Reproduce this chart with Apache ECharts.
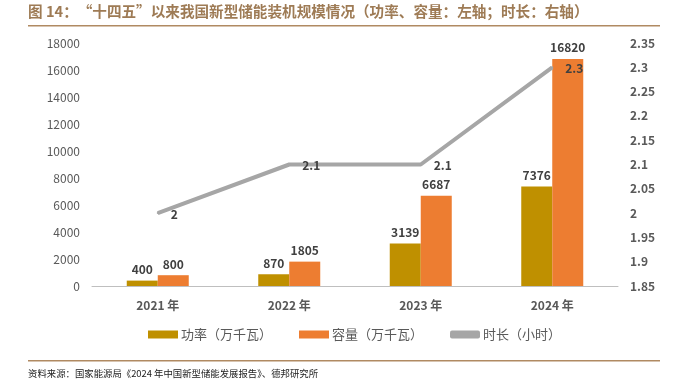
<!DOCTYPE html>
<html><head><meta charset="utf-8">
<script src="https://cdn.jsdelivr.net/npm/echarts@6/dist/echarts.min.js"></script>
<style>html,body{margin:0;padding:0;background:#fff}#c{width:678px;height:389px}</style>
</head><body><div id="c"></div>
<script>
var categories = ['2021年', '2022年', '2023年', '2024年'];
var powerValues = [400, 870, 3139, 7376];
var capacityValues = [800, 1805, 6687, 16820];
var durationValues = [2, 2.1, 2.1, 2.3];
var seriesNames = ['功率（万千瓦）', '容量（万千瓦）', '时长（小时）'];
var titleText = '图 14：“十四五”以来我国新型储能装机规模情况（功率、容量：左轴；时长：右轴）';
var sourceText = '资料来源：国家能源局《2024 年中国新型储能发展报告》、德邦研究所';

var font = '"Noto Sans CJK SC", "Noto Sans", sans-serif';
var chart = echarts.init(document.getElementById('c'));
var labelStyle = {show: true, position: 'top', fontWeight: 'bold', fontSize: 12, color: '#404040', fontFamily: font};
chart.setOption({
  animation: false,
  textStyle: {fontFamily: font},
  grid: {left: 92, right: 60, top: 43, bottom: 103},
  legend: {
    bottom: 43, left: 143, itemWidth: 30, itemHeight: 8, itemGap: 27,
    textStyle: {fontSize: 13, color: '#595959', fontFamily: font, padding: [0, 0, 0, -2]},
    data: [
      {name: seriesNames[0], icon: 'rect'},
      {name: seriesNames[1], icon: 'rect'},
      {name: seriesNames[2], icon: 'roundRect', itemStyle: {color: '#A6A6A6', opacity: 1}}
    ]
  },
  xAxis: {
    type: 'category', data: categories,
    axisLine: {lineStyle: {color: '#BFBFBF', width: 1}},
    axisTick: {show: false},
    axisLabel: {fontWeight: 'bold', fontSize: 12, color: '#595959', margin: 13,
      formatter: function (v) { return v.replace('年', ' 年'); }}
  },
  yAxis: [
    {type: 'value', min: 0, max: 18000, interval: 2000, splitLine: {show: false},
     axisLine: {show: false}, axisTick: {show: false},
     axisLabel: {fontSize: 12, color: '#595959', margin: 12,
       formatter: function (v) { return String(v); }}},
    {type: 'value', min: 1.85, max: 2.35, interval: 0.05, splitLine: {show: false},
     axisLine: {show: false}, axisTick: {show: false},
     axisLabel: {fontSize: 12, color: '#595959', fontWeight: 'bold', margin: 12,
       formatter: function (v) { return String(parseFloat(v.toFixed(2))); }}}
  ],
  series: [
    {name: seriesNames[0], type: 'bar', data: powerValues, barWidth: 31, barGap: '0%',
     itemStyle: {color: '#BF9000'}, label: labelStyle},
    {name: seriesNames[1], type: 'bar', data: capacityValues, barWidth: 31,
     itemStyle: {color: '#ED7D31'}, label: labelStyle},
    {name: seriesNames[2], type: 'line', yAxisIndex: 1, data: durationValues,
     symbol: 'circle', symbolSize: 2, showSymbol: true,
     lineStyle: {color: '#A6A6A6', width: 4}, itemStyle: {color: '#A6A6A6'},
     label: {show: true, position: 'right', distance: 12, offset: [0, 1], fontWeight: 'bold', fontSize: 12, color: '#404040', fontFamily: font}}
  ],
  graphic: [
    {type: 'text', left: 28, top: 4, style: {text: titleText, font: 'bold 14.6px ' + font, fill: '#9E7B55'}},
    {type: 'rect', shape: {x: 28, y: 25, width: 632, height: 1.5}, style: {fill: '#B08A62'}},
    {type: 'rect', shape: {x: 28, y: 360, width: 632, height: 1.5}, style: {fill: '#B08A62'}},
    {type: 'text', left: 28, top: 369, style: {text: sourceText, font: '9.4px ' + font, fill: '#222'}}
  ]
});
</script></body></html>
